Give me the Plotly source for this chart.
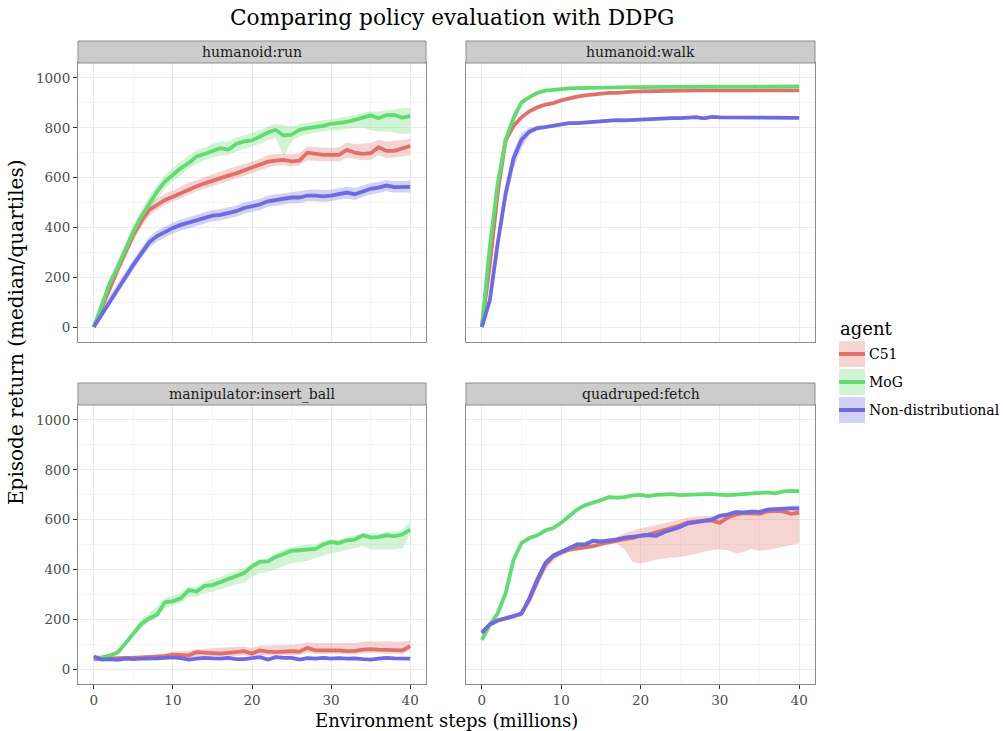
import plotly.graph_objects as go

STEPS = list(range(41))
AGENTS = ["C51", "MoG", "Non-distributional"]
TASKS = ["humanoid:run", "humanoid:walk", "manipulator:insert_ball", "quadruped:fetch"]

# ---------------- humanoid:run ----------------
run_c51_med = [0,80,160,230,300,370,425,470,490,510,523,538,554,565,577,588,600,608,617,628,640,650,664,668,671,665,668,700,695,691,691,691,711,700,695,698,722,707,707,718,727]
run_c51_lo = [0,65,140,210,280,345,400,445,470,490,503,518,533,545,555,565,578,585,595,605,618,628,640,648,650,645,650,670,668,665,668,665,680,675,670,672,690,680,682,685,690]
run_c51_hi = [0,95,180,250,320,395,455,500,515,535,548,563,580,590,602,612,625,635,645,655,665,675,690,695,695,693,698,725,722,720,720,722,740,735,735,738,752,745,748,750,755]
run_mog_med = [0,85,175,240,315,383,443,497,544,584,611,638,658,685,695,707,718,712,735,745,749,765,781,792,769,772,792,799,803,808,816,819,824,832,843,850,838,851,852,840,848]
run_mog_lo = [0,70,155,220,290,355,415,470,515,555,585,610,635,655,670,680,690,690,705,715,725,735,750,760,685,745,765,775,780,785,790,790,795,800,800,790,785,785,780,775,778]
run_mog_hi = [0,100,195,265,340,410,470,525,570,610,640,665,690,710,720,735,745,745,760,770,780,790,805,815,810,805,815,820,825,830,835,840,845,850,860,865,865,870,875,878,880]
run_non_med = [0,50,105,155,205,250,295,340,365,383,398,410,420,430,438,447,450,457,465,478,485,492,505,510,515,520,520,528,528,525,528,535,540,533,545,555,560,568,562,563,563]
run_non_lo = [0,35,85,135,185,230,275,318,343,360,375,388,398,408,416,425,428,435,443,455,462,470,482,488,492,497,497,505,505,502,505,512,515,510,522,532,538,545,540,540,540]
run_non_hi = [0,65,125,175,225,272,318,362,388,405,420,432,442,452,460,470,473,480,488,500,508,515,528,533,538,543,545,550,552,550,552,558,563,558,568,578,582,590,585,588,588]

# ---------------- humanoid:walk ----------------
walk_c51_med = [0,250,540,750,808,842,866,882,893,899,910,918,925,930,934,938,940,940,944,945,946,947,947,948,949,949,949,950,950,950,950,950,950,951,950,950,951,950,950,950,950]
walk_c51_lo = [0,225,510,725,795,832,858,875,887,893,904,912,919,925,929,933,935,935,939,940,941,942,942,943,944,944,944,945,945,945,945,945,945,946,945,945,946,945,945,945,945]
walk_c51_hi = [0,275,565,770,820,852,874,889,899,905,916,924,931,935,939,943,945,945,949,950,951,952,952,953,954,954,954,955,955,955,955,955,955,956,955,955,956,955,955,955,955]
walk_mog_med = [0,322,577,752,840,902,923,940,949,953,956,958,959,960,961,962,962,963,963,963,963,964,964,964,964,964,965,965,965,965,965,965,965,965,965,966,966,966,966,966,966]
walk_mog_lo = [0,290,545,725,815,890,915,934,944,949,952,954,955,956,957,958,958,959,959,959,959,960,960,960,960,960,961,961,961,961,961,961,961,961,961,962,962,962,962,962,962]
walk_mog_hi = [0,345,600,770,860,912,930,946,954,957,960,962,963,964,965,966,966,967,967,967,967,968,968,968,968,968,969,969,969,969,969,969,969,969,969,970,970,970,970,970,970]
walk_non_med = [0,107,336,537,678,752,785,799,803,808,816,819,819,821,825,828,828,831,830,832,832,835,838,838,839,839,840,843,838,844,842,842,842,842,842,842,841,841,840,840,840]
walk_non_lo = [0,85,300,495,635,720,770,790,796,801,810,813,813,815,819,822,822,825,824,826,826,829,832,832,833,833,834,837,832,838,836,836,836,836,836,836,835,835,834,834,834]
walk_non_hi = [0,130,370,575,710,780,800,808,810,815,822,825,825,827,831,834,834,837,836,838,838,841,844,844,845,845,846,849,844,850,848,848,848,848,848,848,847,847,846,846,846]

# ---------------- manipulator:insert_ball ----------------
ball_c51_med = [40,42,44,44,45,45,46,47,48,52,58,56,55,68,66,65,62,65,70,72,62,75,70,68,70,72,70,85,75,75,77,75,72,73,78,80,78,78,76,75,92]
ball_c51_lo = [35,36,38,38,38,39,39,40,40,42,45,44,43,50,50,50,48,50,52,55,50,55,55,52,55,55,55,65,60,60,62,60,58,58,62,65,62,62,60,60,75]
ball_c51_hi = [45,48,50,50,52,52,54,55,58,62,70,70,72,80,82,85,85,90,92,92,85,95,95,95,95,98,100,108,105,105,108,108,105,105,110,112,110,112,110,110,115]
ball_mog_med = [45,47,54,66,103,144,181,203,219,268,273,284,317,311,334,337,349,365,376,385,412,430,432,450,462,475,477,479,482,500,510,506,517,520,537,528,530,537,534,540,560]
ball_mog_lo = [40,42,48,58,90,130,165,190,205,245,255,265,290,290,305,310,320,330,340,345,370,385,390,400,415,425,430,435,445,455,465,470,480,485,495,480,480,480,480,485,540]
ball_mog_hi = [50,52,60,75,115,160,200,225,250,285,295,305,330,330,350,360,370,385,395,405,425,440,445,465,480,490,495,500,500,515,520,520,530,535,545,545,545,550,550,560,590]
ball_non_med = [50,38,40,37,42,40,42,41,43,45,47,44,38,42,45,43,42,45,40,40,45,48,38,48,45,45,38,44,42,45,42,44,42,43,40,38,42,45,43,42,42]
ball_non_lo = [44,33,35,32,37,35,37,36,38,40,42,39,33,37,40,38,37,40,35,35,40,43,33,43,40,40,33,39,37,40,37,39,37,38,35,33,37,40,38,37,37]
ball_non_hi = [56,44,46,43,48,46,48,47,49,51,53,50,44,48,51,49,48,51,46,46,51,54,44,54,51,51,44,50,48,51,48,50,48,49,46,44,48,51,49,48,48]

# ---------------- quadruped:fetch ----------------
fetch_c51_med = [148,177,195,204,211,224,278,352,419,452,468,479,483,486,493,502,509,517,522,526,536,540,549,557,566,576,589,593,596,596,587,609,620,626,626,623,633,635,633,623,628]
fetch_c51_lo = [140,170,188,198,205,215,262,330,395,435,455,470,475,478,485,493,500,505,480,430,425,430,440,445,448,450,455,462,470,478,480,478,465,470,482,475,478,485,490,498,505]
fetch_c51_hi = [155,185,202,212,218,235,300,375,440,465,480,490,495,500,507,515,522,530,545,555,565,570,578,585,592,600,608,612,615,615,610,625,632,638,640,640,645,648,648,645,648]
fetch_mog_med = [117,177,224,305,439,506,526,537,556,566,587,613,640,658,667,678,690,688,690,697,699,694,699,700,702,698,700,703,702,702,700,698,700,702,707,707,709,705,713,715,714]
fetch_mog_lo = [110,168,212,290,425,495,518,530,548,558,578,602,630,650,660,672,684,682,684,691,693,688,693,694,696,692,694,697,696,696,694,692,694,696,701,701,703,699,707,709,708]
fetch_mog_hi = [124,186,236,320,452,516,534,544,564,574,596,624,650,666,674,684,696,694,696,703,705,700,705,706,708,704,706,709,708,708,706,704,706,708,713,713,715,711,719,721,720]
fetch_non_med = [145,180,195,204,210,222,285,360,425,455,470,485,500,500,515,512,515,520,528,530,535,538,535,550,560,570,585,590,595,600,615,620,630,628,632,630,640,642,645,645,645]
fetch_non_lo = [138,172,188,197,203,212,268,340,408,445,462,477,492,492,507,504,507,512,520,522,527,530,527,542,552,562,577,582,587,592,607,612,622,620,624,622,632,634,637,637,635]
fetch_non_hi = [152,188,202,211,217,235,302,378,440,465,478,493,508,508,523,520,523,528,536,538,543,546,543,558,568,578,593,598,603,608,623,628,638,636,640,638,648,650,653,655,658]

X_TICKS = [0, 10, 20, 30, 40]
X_MINOR = [5, 15, 25, 35]
Y_TICKS = [0, 200, 400, 600, 800, 1000]
Y_MINOR = [100, 300, 500, 700, 900]

DATA = {
    "humanoid:run": [(run_c51_med, run_c51_lo, run_c51_hi), (run_mog_med, run_mog_lo, run_mog_hi), (run_non_med, run_non_lo, run_non_hi)],
    "humanoid:walk": [(walk_c51_med, walk_c51_lo, walk_c51_hi), (walk_mog_med, walk_mog_lo, walk_mog_hi), (walk_non_med, walk_non_lo, walk_non_hi)],
    "manipulator:insert_ball": [(ball_c51_med, ball_c51_lo, ball_c51_hi), (ball_mog_med, ball_mog_lo, ball_mog_hi), (ball_non_med, ball_non_lo, ball_non_hi)],
    "quadruped:fetch": [(fetch_c51_med, fetch_c51_lo, fetch_c51_hi), (fetch_mog_med, fetch_mog_lo, fetch_mog_hi), (fetch_non_med, fetch_non_lo, fetch_non_hi)],
}

LINE_COLORS = ["#e0706a", "#63db72", "#6e6ae2"]
BAND_COLORS = ["rgba(224,112,106,0.30)", "rgba(99,219,114,0.30)", "rgba(110,106,226,0.30)"]

W, H = 1003, 731
FONT = "DejaVu Serif"

def px_x(p):
    return p / W

def px_y(p):
    return 1 - p / H

# panel pixel boxes (left, right, top, bottom)
PANELS = [
    (78, 426, 63, 342),
    (466, 815, 63, 342),
    (78, 426, 405, 684),
    (466, 815, 405, 684),
]
STRIP_H = 22

fig = go.Figure()

for i, task in enumerate(TASKS):
    xa = "x" if i == 0 else f"x{i+1}"
    ya = "y" if i == 0 else f"y{i+1}"
    series = DATA[task]
    for a, (med, lo, hi) in enumerate(series):
        fig.add_trace(go.Scatter(x=STEPS, y=lo, mode="lines", line=dict(width=0, color=BAND_COLORS[a]),
                                 xaxis=xa, yaxis=ya, showlegend=False, hoverinfo="skip"))
        fig.add_trace(go.Scatter(x=STEPS, y=hi, mode="lines", line=dict(width=0, color=BAND_COLORS[a]),
                                 fill="tonexty", fillcolor=BAND_COLORS[a],
                                 xaxis=xa, yaxis=ya, showlegend=False, hoverinfo="skip"))
    for a, (med, lo, hi) in enumerate(series):
        fig.add_trace(go.Scatter(x=STEPS, y=med, mode="lines", line=dict(width=3.8, color=LINE_COLORS[a]),
                                 name=AGENTS[a], xaxis=xa, yaxis=ya, showlegend=False))

layout = dict(
    width=W, height=H,
    margin=dict(l=0, r=0, t=0, b=0),
    paper_bgcolor="white", plot_bgcolor="white",
    font=dict(family=FONT, color="#4d4d4d", size=13),
    showlegend=False,
)

shapes = []
annotations = []
for i, (l, r, t, b) in enumerate(PANELS):
    sfx = "" if i == 0 else str(i + 1)
    left_col = i in (0, 2)
    bottom_row = i in (2, 3)
    layout["xaxis" + sfx] = dict(
        domain=[px_x(l), px_x(r)], range=[-2, 42], anchor="y" + sfx,
        tickvals=X_TICKS, ticktext=[str(v) for v in X_TICKS],
        showticklabels=bottom_row, ticks="outside" if bottom_row else "",
        ticklen=4, tickcolor="#333333", tickwidth=1,
        tickfont=dict(family=FONT, size=13.5, color="#4d4d4d"),
        showgrid=True, gridcolor="#ebebeb", gridwidth=1,
        minor=dict(tickvals=X_MINOR, showgrid=True, gridcolor="#f5f5f5", gridwidth=0.6),
        zeroline=False, showline=True, mirror=True, linecolor="#8c8c8c", linewidth=1,
        automargin=False, fixedrange=True,
    )
    layout["yaxis" + sfx] = dict(
        domain=[px_y(b), px_y(t)], range=[-60, 1060], anchor="x" + sfx,
        tickvals=Y_TICKS, ticktext=[str(v) for v in Y_TICKS],
        showticklabels=left_col, ticks="outside" if left_col else "",
        ticklen=4, tickcolor="#333333", tickwidth=1,
        tickfont=dict(family=FONT, size=13.5, color="#4d4d4d"),
        showgrid=True, gridcolor="#ebebeb", gridwidth=1,
        minor=dict(tickvals=Y_MINOR, showgrid=True, gridcolor="#f5f5f5", gridwidth=0.6),
        zeroline=False, showline=True, mirror=True, linecolor="#8c8c8c", linewidth=1,
        automargin=False, fixedrange=True,
    )
    # strip
    shapes.append(dict(type="rect", xref="paper", yref="paper",
                       x0=px_x(l), x1=px_x(r), y0=px_y(t), y1=px_y(t - STRIP_H),
                       fillcolor="#cccccc", line=dict(color="#8c8c8c", width=1), layer="above"))
    annotations.append(dict(text=TASKS[i], xref="paper", yref="paper",
                            x=px_x((l + r) / 2), y=px_y(t - STRIP_H / 2),
                            xanchor="center", yanchor="middle", showarrow=False,
                            font=dict(family=FONT, size=14, color="#1a1a1a")))

# titles
annotations.append(dict(text="Comparing policy evaluation with DDPG", xref="paper", yref="paper",
                        x=px_x(452), y=px_y(18), xanchor="center", yanchor="middle", showarrow=False,
                        font=dict(family=FONT, size=21.7, color="black")))
annotations.append(dict(text="Environment steps (millions)", xref="paper", yref="paper",
                        x=px_x(446), y=px_y(720), xanchor="center", yanchor="middle", showarrow=False,
                        font=dict(family=FONT, size=18, color="black")))
annotations.append(dict(text="Episode return (median/quartiles)", xref="paper", yref="paper",
                        x=px_x(16), y=px_y(333), xanchor="center", yanchor="middle", showarrow=False,
                        textangle=-90, font=dict(family=FONT, size=20, color="black")))

# manual legend
annotations.append(dict(text="agent", xref="paper", yref="paper",
                        x=px_x(838), y=px_y(329), xanchor="left", yanchor="middle", showarrow=False,
                        font=dict(family=FONT, size=18, color="black")))
key_tops = [341, 369, 397]
for a, kt in enumerate(key_tops):
    shapes.append(dict(type="rect", xref="paper", yref="paper",
                       x0=px_x(839), x1=px_x(865), y0=px_y(kt + 26), y1=px_y(kt),
                       fillcolor=BAND_COLORS[a], line=dict(width=0)))
    shapes.append(dict(type="line", xref="paper", yref="paper",
                       x0=px_x(839), x1=px_x(865), y0=px_y(kt + 13), y1=px_y(kt + 13),
                       line=dict(color=LINE_COLORS[a], width=4)))
    annotations.append(dict(text=AGENTS[a], xref="paper", yref="paper",
                            x=px_x(867), y=px_y(kt + 13), xanchor="left", yanchor="middle", showarrow=False,
                            font=dict(family=FONT, size=14, color="black")))

layout["shapes"] = shapes
layout["annotations"] = annotations
fig.update_layout(**layout)
fig.write_html("out.html", config={"displayModeBar": False},
               post_script="document.body.style.margin='0';document.body.style.padding='0';")
